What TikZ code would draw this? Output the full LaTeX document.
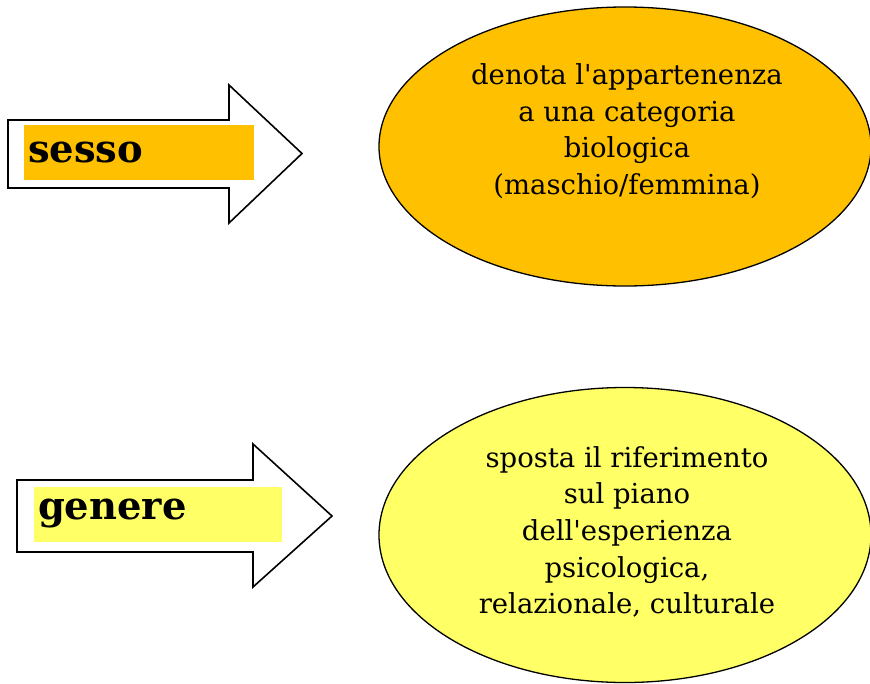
\documentclass[tikz,border=0pt]{standalone}
\usepackage{fontspec}
\setmainfont{DejaVu Serif}
\usetikzlibrary{shapes.geometric}
\definecolor{sexorange}{HTML}{FFC000}
\definecolor{genyellow}{HTML}{FFFF66}

\begin{document}
\begin{tikzpicture}[x=1pt,y=-1pt,
   blockarrow/.style={draw=black,line width=1.6pt,fill=white,line join=miter},
   labelbox/.style={rectangle,inner xsep=4pt,inner ysep=0pt,minimum height=55pt,
      align=left,font=\fontsize{38.5}{42}\bfseries\selectfont},
   bubble/.style={ellipse,draw=black,line width=1.3pt,inner sep=0pt,minimum width=492pt},
   bubbletext/.style={align=center,inner sep=0pt,font=\fontsize{27.5}{36.6}\selectfont}] % <- pixel units
   \useasboundingbox (0,0) rectangle (870,683);
   % Sesso
   \draw [blockarrow] (8,120) -- (229,120) -- (229,85) -- (302,153.5) -- (229,223) -- (229,188) -- (8,188) -- cycle;
   \node [labelbox, fill=sexorange, text width=222pt] (sesso) at (139,152.5) {sesso};
   \node [bubble, fill=sexorange, minimum height=279pt] (sessobubble) at (625,146.5) {};
   \node [bubbletext] (sessotext) at (627,131) {denota l\textquotesingle appartenenza\\a una categoria\\biologica\\(maschio/femmina)};
   % Genere
   \draw [blockarrow] (17,480) -- (253,480) -- (253,444) -- (332,516) -- (253,587) -- (253,552) -- (17,552) -- cycle;
   \node [labelbox, fill=genyellow, text width=240pt] (genere) at (158,514) {genere};
   \node [bubble, fill=genyellow, minimum height=295pt] (generebubble) at (625,535) {};
   \node [bubbletext] (generetext) at (627,532) {sposta il riferimento\\sul piano\\dell\textquotesingle esperienza\\psicologica,\\relazionale, culturale};
\end{tikzpicture}
\end{document}
